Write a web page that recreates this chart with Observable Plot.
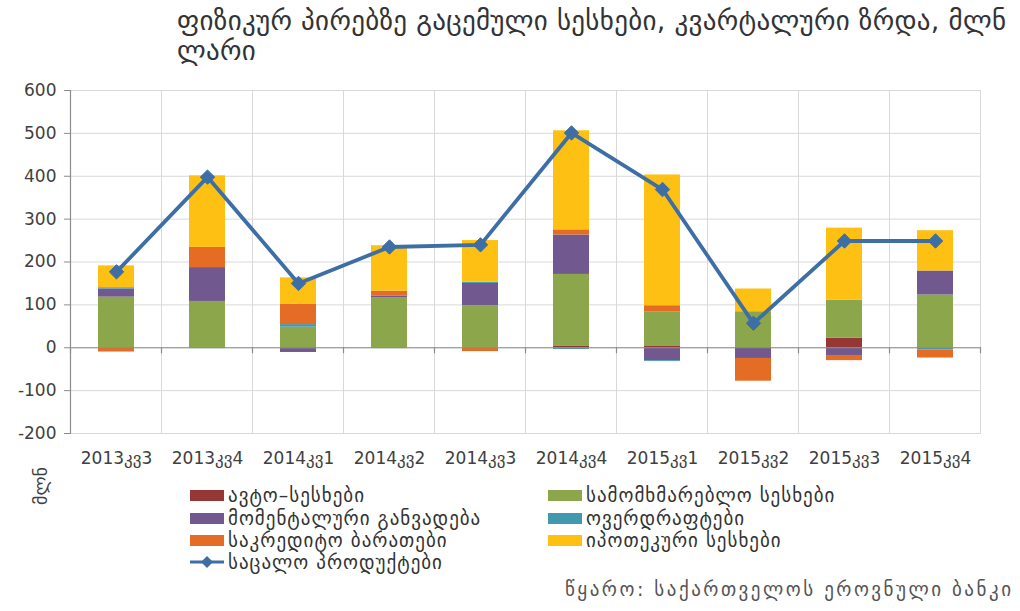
<!DOCTYPE html>
<html><head><meta charset="utf-8">
<script src="https://cdn.jsdelivr.net/npm/d3@7"></script>
<script src="https://cdn.jsdelivr.net/npm/@observablehq/plot@0.6"></script>
<style>
body{margin:0;background:#fff;font-family:"DejaVu Sans",sans-serif;}
#wrap{position:relative;width:1020px;height:611px;overflow:hidden;background:#fff;}
#title{position:absolute;left:177px;top:6px;font-size:27px;line-height:30px;letter-spacing:0.3px;color:#333;white-space:nowrap;}
#chart{position:absolute;left:0;top:70px;}
#ylab{position:absolute;left:21px;top:474px;width:40px;text-align:center;font-size:18px;line-height:24px;color:#404040;transform:rotate(-90deg);}
.li{position:absolute;height:22px;display:flex;align-items:center;font-size:19px;letter-spacing:1px;color:#333;white-space:nowrap;}
.sw{width:34px;height:11px;margin-right:4px;flex:none;}
#source{position:absolute;left:565px;top:578px;font-size:19px;letter-spacing:2.5px;color:#555;white-space:nowrap;}
</style></head>
<body><div id="wrap">
<div id="title">ფიზიკურ პირებზე გაცემული სესხები, კვარტალური ზრდა, მლნ<br>ლარი</div>
<div id="chart"></div>
<div id="ylab">მლნ</div>
<div id="legend"></div>
<div id="source">წყარო: საქართველოს ეროვნული ბანკი</div>
</div>
<script>
const quarters = ["2013კვ3","2013კვ4","2014კვ1","2014კვ2","2014კვ3","2014კვ4","2015კვ1","2015კვ2","2015კვ3","2015კვ4"];
const seriesNames = ["ავტო–სესხები","სამომხმარებლო სესხები","მომენტალური განვადება","ოვერდრაფტები","საკრედიტო ბარათები","იპოთეკური სესხები"];
const seriesColors = ["#953735","#8BA64B","#71588F","#4198AF","#E46C24","#FDC013"];
const auto      = [0,   0,  -2,   0,   0,   3,   3,   0,  22,   0];
const consumer  = [118, 108, 48, 117,  98, 168,  80,  84,  89, 123];
const instant   = [19,  79,  -9,   3,  52,  92, -30, -25, -18,  56];
const overdraft = [3,   -2,   6,  -2,   3,  -4,  -2,   0,   0,  -5];
const cards     = [-10, 47,  47,  12,  -9,  12,  15, -53, -12, -19];
const mortgage  = [51, 167,  62, 106,  97, 231, 305,  53, 168,  94];
const totalName = "საცალო პროდუქტები";
const total     = [177, 398, 150, 235, 240, 501, 369,  57, 249, 249];
const yTicks = [-200,-100,0,100,200,300,400,500,600];
const lineColor = "#3D6FA6";

const seriesValues = [auto, consumer, instant, overdraft, cards, mortgage];
const barData = [];
seriesNames.forEach((s, si) => quarters.forEach((q, qi) => barData.push({q, s, v: seriesValues[si][qi]})));
const lineData = quarters.map((q, i) => ({q, v: total[i]}));

const chart = Plot.plot({
  width: 1020, height: 410,
  marginTop: 20, marginBottom: 47, marginLeft: 71, marginRight: 39,
  style: {fontFamily: "DejaVu Sans", fontSize: "17px", color: "#404040", background: "transparent"},
  x: {type: "band", domain: quarters, paddingInner: 0.6, paddingOuter: 0.3, tickSize: 0, tickPadding: 18, label: null},
  y: {domain: [-200, 600], ticks: yTicks, tickSize: 7, tickPadding: 8, label: null, tickFormat: d => d < 0 ? "-" + Math.abs(d) : String(d)},
  color: {domain: seriesNames, range: seriesColors},
  marks: [
    Plot.ruleY(yTicks, {stroke: "#d9d9d9", strokeWidth: 1}),
    Plot.barY(barData, {x: "q", y: "v", fill: "s"}),
    Plot.ruleY([0], {stroke: "#8c8c8c", strokeWidth: 1.2}),
    Plot.lineY(lineData, {x: "q", y: "v", stroke: lineColor, strokeWidth: 3.8}),
    Plot.dot(lineData, {x: "q", y: "v", symbol: "diamond2", r: 6.5, fill: lineColor, stroke: lineColor, strokeWidth: 1})
  ]
});
document.getElementById("chart").appendChild(chart);

// category boundary gridlines, left axis line, and zero-line ticks from Plot's scales
const xs = chart.scale("x"), ys = chart.scale("y");
const bw = xs.bandwidth;
const centers = quarters.map(q => xs.apply(q) + bw / 2);
const step = centers[1] - centers[0];
const bounds = centers.map(c => c + step / 2);
const leftEdge = centers[0] - step / 2;
const yTop = ys.apply(600), yBot = ys.apply(-200), y0 = ys.apply(0);
const svg = d3.select(chart);
const gGrid = svg.insert("g", "g");
gGrid.selectAll("line").data(bounds).join("line")
  .attr("x1", d => d).attr("x2", d => d).attr("y1", yTop).attr("y2", yBot)
  .attr("stroke", "#d9d9d9").attr("stroke-width", 1);
const gAx = svg.append("g");
gAx.append("line").attr("x1", leftEdge).attr("x2", leftEdge).attr("y1", yTop).attr("y2", yBot)
  .attr("stroke", "#8c8c8c").attr("stroke-width", 1.2);
gAx.selectAll("line.t").data([leftEdge, ...bounds]).join("line").attr("class", "t")
  .attr("x1", d => d).attr("x2", d => d).attr("y1", y0).attr("y2", y0 + 6)
  .attr("stroke", "#8c8c8c").attr("stroke-width", 1.2);
svg.selectAll("[aria-label='y-axis tick'] path, [aria-label='y-axis'] path").attr("stroke", "#8c8c8c");

// legend
const legend = document.getElementById("legend");
const legendItems = [
  {name: seriesNames[0], color: seriesColors[0], col: 0, row: 0},
  {name: seriesNames[1], color: seriesColors[1], col: 1, row: 0},
  {name: seriesNames[2], color: seriesColors[2], col: 0, row: 1},
  {name: seriesNames[3], color: seriesColors[3], col: 1, row: 1},
  {name: seriesNames[4], color: seriesColors[4], col: 0, row: 2},
  {name: seriesNames[5], color: seriesColors[5], col: 1, row: 2},
  {name: totalName, color: lineColor, col: 0, row: 3, line: true}
];
const colX = [190, 548], rowY = [484, 507, 529, 551];
legendItems.forEach(it => {
  const d = document.createElement("div");
  d.className = "li";
  d.style.left = colX[it.col] + "px";
  d.style.top = rowY[it.row] + "px";
  if (it.line) {
    d.innerHTML = `<svg width="34" height="14" style="margin-right:4px;flex:none"><line x1="0" y1="7" x2="34" y2="7" stroke="${it.color}" stroke-width="3"/><path d="M17 1 L23 7 L17 13 L11 7 Z" fill="${it.color}"/></svg><span>${it.name}</span>`;
  } else {
    d.innerHTML = `<div class="sw" style="background:${it.color}"></div><span>${it.name}</span>`;
  }
  legend.appendChild(d);
});
</script>
</body></html>
